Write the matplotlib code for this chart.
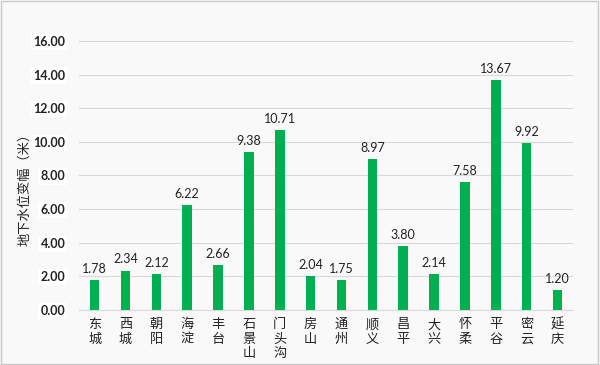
import matplotlib
matplotlib.use("Agg")
import matplotlib.pyplot as plt
import numpy as np

plt.rcParams["font.family"] = ["Lato", "Noto Sans CJK SC", "DejaVu Sans"]

DISTRICTS = ["东城", "西城", "朝阳", "海淀", "丰台", "石景山", "门头沟", "房山",
             "通州", "顺义", "昌平", "大兴", "怀柔", "平谷", "密云", "延庆"]
CHANGE = [1.78, 2.34, 2.12, 6.22, 2.66, 9.38, 10.71, 2.04,
          1.75, 8.97, 3.80, 2.14, 7.58, 13.67, 9.92, 1.20]
Y_TICKS = [0, 2, 4, 6, 8, 10, 12, 14, 16]

GREEN = "#00b050"
BG = "#f8f9f8"

fig = plt.figure(figsize=(6, 3.65), dpi=100, facecolor=BG)
ax = fig.add_axes([0.132, 0.151, 0.823, 0.737], facecolor=BG)

x = np.arange(len(DISTRICTS))
ax.bar(x, CHANGE, width=0.31, color=GREEN, zorder=3)
for xi, v in zip(x, CHANGE):
    ax.text(xi, v + 0.3, f"{v:.2f}", ha="center", va="bottom", fontsize=9,
            color="#222222", family=["Lato", "DejaVu Sans"])

ax.set_xlim(-0.5, len(DISTRICTS) - 0.5)
ax.set_ylim(0, 16)
ax.set_yticks(Y_TICKS)
ax.set_yticklabels([f"{t:.2f}" for t in Y_TICKS], fontsize=9, fontweight="bold",
                   color="#222222",
                   bbox=dict(facecolor="white", edgecolor="none", pad=1.5))
ax.set_xticks(x)
ax.set_xticklabels(["\n".join(d) for d in DISTRICTS], fontsize=9.5,
                   family=["Noto Sans CJK SC"], linespacing=1.15, va="top",
                   color="#222222")
ax.tick_params(axis="both", length=0)
ax.tick_params(axis="y", pad=10)
ax.tick_params(axis="x", pad=6)
ax.grid(axis="y", color="#d9d9d9", lw=0.8, zorder=0)
for s in ["top", "right", "left"]:
    ax.spines[s].set_visible(False)
ax.spines["bottom"].set_color("#d9d9d9")

fig.text(0.042, 0.49, "地下水位变幅（米）", rotation=90, ha="center", va="center",
         fontsize=9.5, family=["Noto Sans CJK SC"], color="#222222")

# light frame around the whole picture
fig.patches.append(plt.Rectangle((0.002, 0.003), 0.995, 0.993, transform=fig.transFigure,
                                 fill=False, edgecolor="#c8c8c8", lw=1))

fig.savefig("out.png", dpi=100, facecolor=BG)
